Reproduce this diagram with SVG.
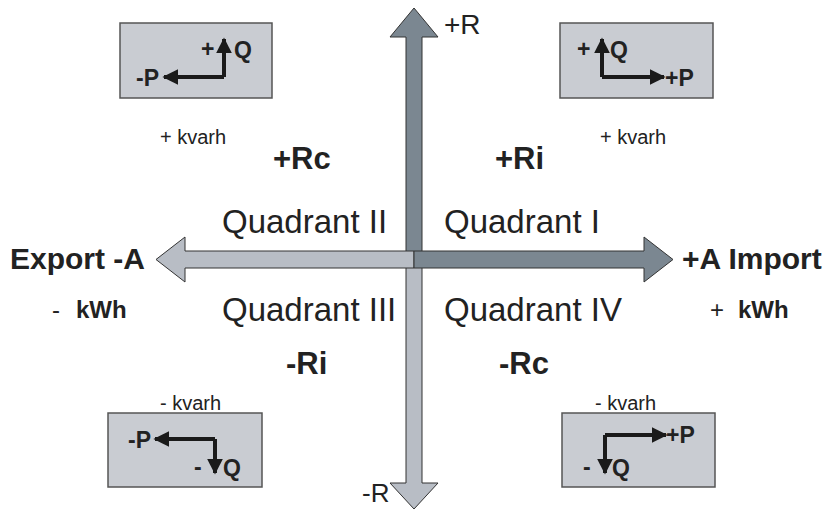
<svg xmlns="http://www.w3.org/2000/svg" width="826" height="510" viewBox="0 0 826 510">
<defs>
<style>
text{font-family:"Liberation Sans",Arial,sans-serif;fill:#222}
.q{font-size:33px}
.b{font-weight:bold}
.big{font-size:31px;font-weight:bold}
.ax{font-size:30px;font-weight:bold}
.kv{font-size:20px}
.kw{font-size:24px}
.box{fill:#c9ccd2;stroke:#555;stroke-width:1.5}
.dark{fill:#7b8791;stroke:#333;stroke-width:1}
.light{fill:#b8bdc5;stroke:#333;stroke-width:1}
.vec{stroke:#1a1a1a;stroke-width:4;fill:none}
.bt{font-size:23px;font-weight:bold}
</style>
<marker id="ah" viewBox="0 0 10 10" refX="9" refY="5" markerWidth="4" markerHeight="4" orient="auto"><path d="M0,0 L10,5 L0,10 z" fill="#1a1a1a"/></marker>
</defs>
<g id="axes">
<polygon class="dark" points="414,8 438,37 422,37 422,259 406,259 406,37 390,37"/>
<polygon class="light" points="406,259 422,259 422,483 438,483 414,509 390,483 406,483"/>
<polygon class="light" points="156,259.5 185,237 185,251 414,251 414,268 185,268 185,282"/>
<polygon class="dark" points="414,251 644,251 644,237 673,259.5 644,282 644,268 414,268"/>
</g>
<g id="box-q2">
<rect class="box" x="120" y="23" width="152" height="75"/>
<polyline class="vec" points="224,77 224,39" marker-end="url(#ah)"/>
<polyline class="vec" points="224,77 164,77" marker-end="url(#ah)"/>
<text x="201" y="57" class="bt">+</text>
<text x="234" y="58" class="bt">Q</text>
<text x="136" y="86" class="bt">-P</text>
</g>
<g id="box-q1">
<rect class="box" x="560" y="23" width="153" height="75"/>
<polyline class="vec" points="602,77 602,39" marker-end="url(#ah)"/>
<polyline class="vec" points="602,77 664,77" marker-end="url(#ah)"/>
<text x="577" y="57" class="bt">+</text>
<text x="610" y="58" class="bt">Q</text>
<text x="665" y="86" class="bt">+P</text>
</g>
<g id="box-q3">
<rect class="box" x="108" y="413" width="154" height="74"/>
<polyline class="vec" points="215,439 215,473" marker-end="url(#ah)"/>
<polyline class="vec" points="215,439 155,439" marker-end="url(#ah)"/>
<text x="128" y="448" class="bt">-P</text>
<text x="194" y="475" class="bt">-</text>
<text x="223" y="476" class="bt">Q</text>
</g>
<g id="box-q4">
<rect class="box" x="562" y="413" width="153" height="74"/>
<polyline class="vec" points="605,435 605,473" marker-end="url(#ah)"/>
<polyline class="vec" points="605,435 666,435" marker-end="url(#ah)"/>
<text x="666" y="443" class="bt">+P</text>
<text x="583" y="475" class="bt">-</text>
<text x="612" y="476" class="bt">Q</text>
</g>
<g id="labels">
<text x="444" y="34" font-size="28">+R</text>
<text x="362" y="502" font-size="26">-R</text>
<text x="10" y="269" class="ax">Export -A</text>
<text x="682" y="269" class="ax">+A Import</text>
<text x="222" y="233" class="q">Quadrant II</text>
<text x="444" y="233" class="q">Quadrant I</text>
<text x="222" y="321" class="q">Quadrant III</text>
<text x="444" y="321" class="q">Quadrant IV</text>
<text x="273" y="169" class="big">+Rc</text>
<text x="495" y="169" class="big">+Ri</text>
<text x="286" y="374" class="big">-Ri</text>
<text x="499" y="374" class="big">-Rc</text>
<text x="160" y="144" class="kv">+ kvarh</text>
<text x="600" y="144" class="kv">+ kvarh</text>
<text x="160" y="410" class="kv">- kvarh</text>
<text x="595" y="410" class="kv">- kvarh</text>
<text x="52" y="318" class="kw">-</text>
<text x="76" y="318" class="kw b">kWh</text>
<text x="710" y="318" class="kw">+</text>
<text x="738" y="318" class="kw b">kWh</text>
</g>
</svg>
